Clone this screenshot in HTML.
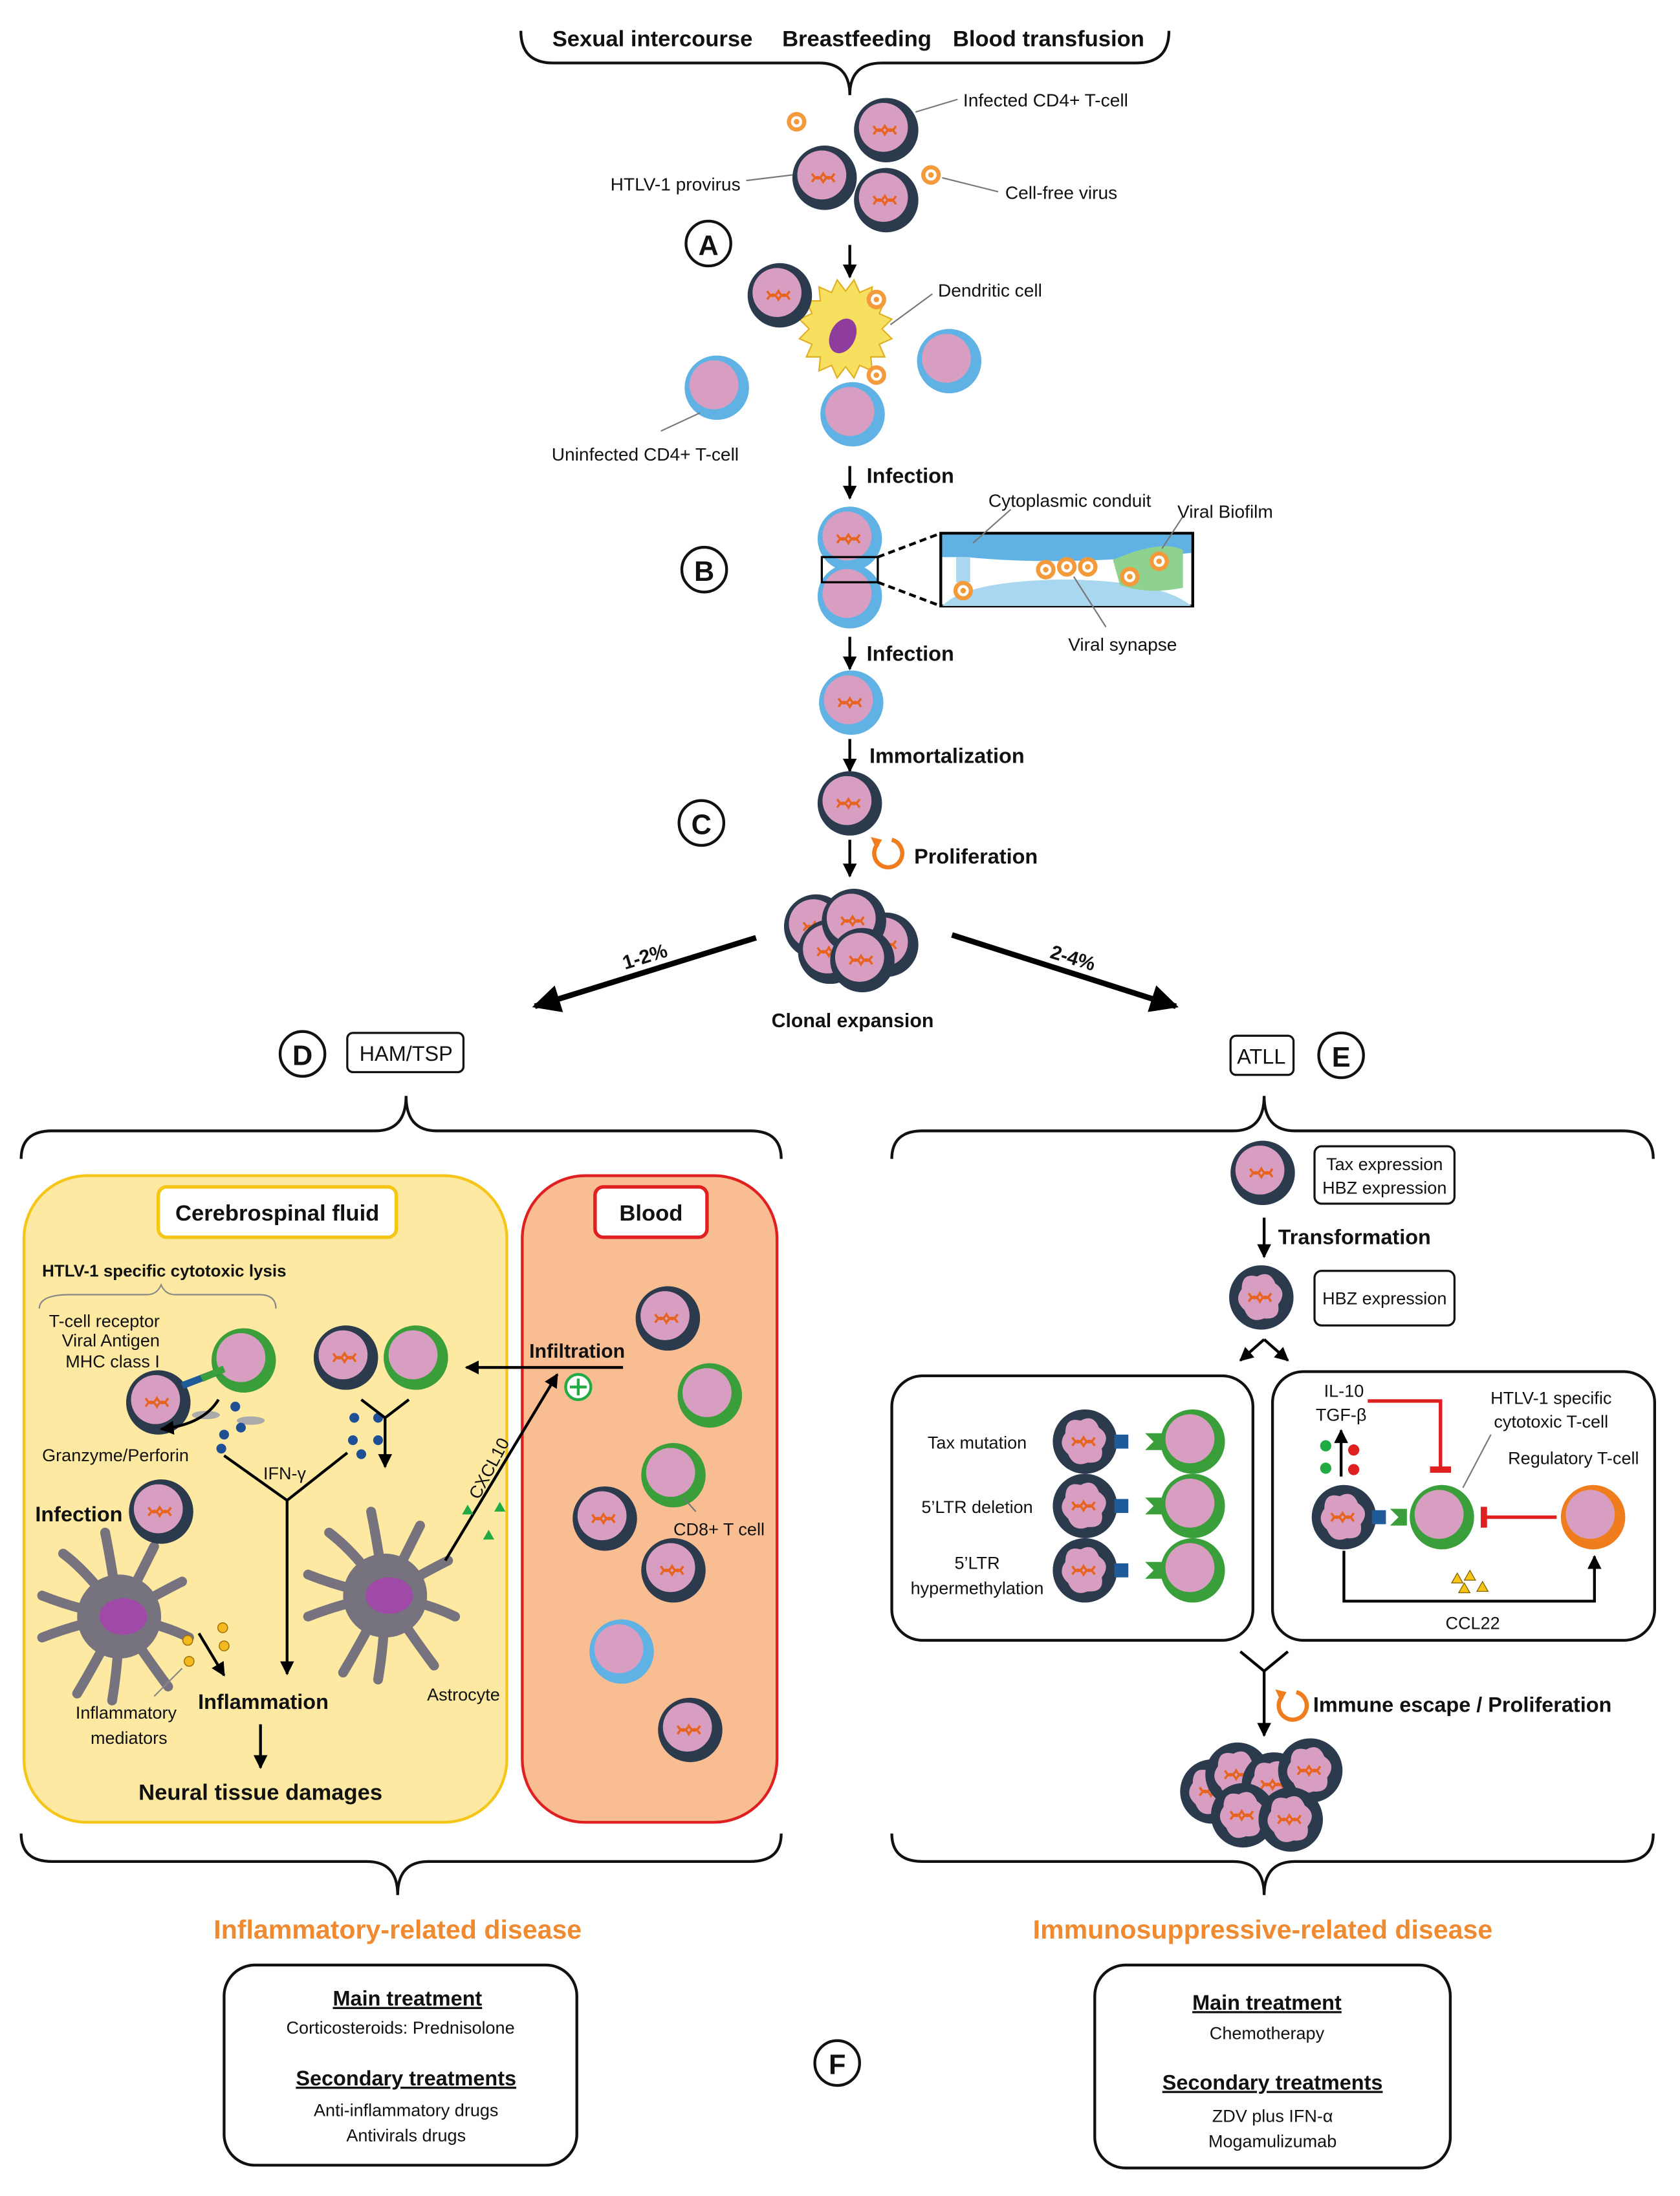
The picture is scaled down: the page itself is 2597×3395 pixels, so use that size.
<!DOCTYPE html>
<html><head><meta charset="utf-8"><style>
html,body{margin:0;padding:0;background:#fff;}
svg{display:block;}
text{font-family:"Liberation Sans",sans-serif;fill:#111;}
.b{font-weight:bold;}
</style></head><body>
<svg width="2597" height="3395" viewBox="0 0 1200 1569" xmlns="http://www.w3.org/2000/svg">
<defs>
<marker id="ar" viewBox="0 0 10 10" refX="9" refY="5" markerWidth="5" markerHeight="5" orient="auto"><path d="M0,0L10,5L0,10z" fill="#000"/></marker>
<marker id="tb" viewBox="0 0 10 10" refX="5" refY="5" markerWidth="6" markerHeight="6" orient="auto"><path d="M5,0V10" stroke="#e02020" stroke-width="3"/></marker>
<g id="dna"><path d="M-9,-3 Q-5,4 -1,-3 Q3,4 7,-3 M-9,3 Q-5,-4 -1,3 Q3,-4 7,3" fill="none" stroke="#e8641e" stroke-width="1.6"/></g>
<g id="inf"><circle r="23" fill="#2b3a4c"/><circle cx="-2" cy="-2" r="17.5" fill="#d79ec1"/><use href="#dna"/></g>
<g id="infb"><circle r="23" fill="#5fb2e3"/><circle cx="-2" cy="-2" r="17.5" fill="#d79ec1"/><use href="#dna"/></g>
<g id="un"><circle r="23" fill="#5fb2e3"/><circle cx="-2" cy="-2" r="17.5" fill="#d79ec1"/></g>
<g id="cd8"><circle r="23" fill="#3a9e3a"/><circle cx="-2" cy="-2" r="17.5" fill="#d79ec1"/></g>
<g id="treg"><circle r="23" fill="#ef7d1e"/><circle cx="-2" cy="-2" r="17.5" fill="#d79ec1"/></g>
<g id="tr"><circle r="23" fill="#2b3a4c"/><path d="M-14,-6 Q-14,-18 -3,-15 Q6,-20 10,-10 Q19,-4 12,5 Q14,16 2,15 Q-8,19 -12,9 Q-20,2 -14,-6z" fill="#d79ec1"/><use href="#dna"/></g>
<g id="vir"><circle r="7" fill="#f39a3c"/><circle r="4" fill="#fff"/><circle r="2" fill="#f39a3c"/></g>
<g id="astro"><g stroke="#76727e" stroke-width="7" stroke-linecap="round" fill="none"><path d="M0,0 Q-20,-30 -40,-45 M0,0 Q-5,-35 -10,-60 M0,0 Q15,-30 25,-50 M0,0 Q25,-15 45,-25 M0,0 Q30,5 50,15 M0,0 Q20,30 35,50 M0,0 Q0,30 -5,60 M0,0 Q-15,30 -30,55 M0,0 Q-30,5 -55,15 M0,0 Q-30,-5 -55,-15"/></g><circle r="30" fill="#76727e"/><ellipse cx="3" cy="0" rx="17" ry="13" fill="#a04aa8"/></g>
</defs>

<text x="466" y="33" class="b" font-size="16" text-anchor="middle">Sexual intercourse</text>
<text x="612" y="33" class="b" font-size="16" text-anchor="middle">Breastfeeding</text>
<text x="749" y="33" class="b" font-size="16" text-anchor="middle">Blood transfusion</text>
<path d="M372,22 Q372,45 395,45 L585,45 Q607,45 607,68 Q607,45 630,45 L812,45 Q835,45 835,22" fill="none" stroke="#111" stroke-width="2"/>
<use href="#inf" x="633" y="93"/><use href="#inf" x="589" y="127"/><use href="#inf" x="633" y="143"/>
<use href="#vir" x="569" y="87"/><use href="#vir" x="665" y="125"/>
<g stroke="#777" stroke-width="1"><line x1="654" y1="80" x2="684" y2="71"/><line x1="533" y1="129" x2="566" y2="125"/><line x1="673" y1="127" x2="713" y2="137"/></g>
<g font-size="13"><text x="688" y="76">Infected CD4+ T-cell</text><text x="436" y="136">HTLV-1 provirus</text><text x="718" y="142">Cell-free virus</text></g>
<circle cx="506" cy="174" r="16" fill="#fff" stroke="#111" stroke-width="2"/><text x="506" y="182" class="b" font-size="20" text-anchor="middle">A</text>
<line x1="607" y1="175" x2="607" y2="198" stroke="#000" stroke-width="2" marker-end="url(#ar)"/>
<path d="M604,208 l6,-8 4,9 9,-4 -1,10 10,0 -4,9 9,4 -7,7 7,7 -9,4 4,9 -10,0 1,10 -9,-4 -4,9 -6,-8 -6,8 -4,-9 -9,4 1,-10 -10,0 4,-9 -9,-4 7,-7 -7,-7 9,-4 -4,-9 10,0 -1,-10 9,4 4,-9z" fill="#f7e060" stroke="#e0b020"/>
<ellipse cx="602" cy="240" rx="9" ry="13" fill="#8e3d9c" transform="rotate(25 602 240)"/>
<use href="#inf" x="557" y="211"/><use href="#un" x="512" y="277"/><use href="#un" x="678" y="258"/><use href="#un" x="609" y="296"/>
<use href="#vir" x="626" y="214"/><use href="#vir" x="626" y="268"/>
<g stroke="#777"><line x1="636" y1="232" x2="666" y2="210"/><line x1="472" y1="308" x2="500" y2="295"/></g>
<text x="670" y="212" font-size="13">Dendritic cell</text><text x="394" y="329" font-size="13">Uninfected CD4+ T-cell</text>
<line x1="607" y1="333" x2="607" y2="356" stroke="#000" stroke-width="2" marker-end="url(#ar)"/>
<text x="619" y="345" class="b" font-size="15">Infection</text>
<use href="#infb" x="607" y="385"/><use href="#un" x="607" y="426"/>
<rect x="587" y="398" width="40" height="18" fill="none" stroke="#000" stroke-width="1.5"/>
<line x1="627" y1="398" x2="672" y2="381" stroke="#000" stroke-dasharray="5,3" stroke-width="2"/><line x1="627" y1="416" x2="672" y2="433" stroke="#000" stroke-dasharray="5,3" stroke-width="2"/>
<rect x="672" y="381" width="180" height="52" fill="#fff" stroke="#000" stroke-width="2"/>
<path d="M673,382 L851,382 L851,395 Q760,405 690,398 L673,398z" fill="#5fb2e3"/>
<path d="M673,433 Q690,415 760,414 Q830,415 851,433z" fill="#a9d7f0"/>
<rect x="683" y="398" width="10" height="18" fill="#a9d7f0"/>
<path d="M795,400 Q830,385 845,393 L845,420 Q820,425 800,418z" fill="#8fd28f"/>
<use href="#vir" x="688" y="422"/><use href="#vir" x="747" y="407"/><use href="#vir" x="762" y="405"/><use href="#vir" x="777" y="405"/><use href="#vir" x="807" y="412"/><use href="#vir" x="828" y="401"/>
<g stroke="#777"><line x1="722" y1="364" x2="695" y2="388"/><line x1="845" y1="369" x2="830" y2="392"/><line x1="790" y1="448" x2="767" y2="412"/></g>
<g font-size="13"><text x="706" y="362">Cytoplasmic conduit</text><text x="841" y="370">Viral Biofilm</text><text x="763" y="465">Viral synapse</text></g>
<circle cx="503" cy="407" r="16" fill="#fff" stroke="#111" stroke-width="2"/><text x="503" y="415" class="b" font-size="20" text-anchor="middle">B</text>
<line x1="607" y1="455" x2="607" y2="478" stroke="#000" stroke-width="2" marker-end="url(#ar)"/>
<text x="619" y="472" class="b" font-size="15">Infection</text>
<use href="#infb" x="608" y="502"/>
<line x1="607" y1="528" x2="607" y2="551" stroke="#000" stroke-width="2" marker-end="url(#ar)"/>
<text x="621" y="545" class="b" font-size="15">Immortalization</text>
<circle cx="501" cy="588" r="16" fill="#fff" stroke="#111" stroke-width="2"/><text x="501" y="596" class="b" font-size="20" text-anchor="middle">C</text>
<use href="#inf" x="607" y="574"/>
<line x1="607" y1="600" x2="607" y2="626" stroke="#000" stroke-width="2" marker-end="url(#ar)"/>
<path d="M637,600 A10,10 0 1 1 627,603" fill="none" stroke="#ef7d1e" stroke-width="3"/><path d="M622,598 l8,2 -4,7z" fill="#ef7d1e"/>
<text x="653" y="617" class="b" font-size="15">Proliferation</text>
<use href="#inf" x="583" y="662"/><use href="#inf" x="633" y="675"/><use href="#inf" x="593" y="680"/><use href="#inf" x="610" y="658"/><use href="#inf" x="616" y="686"/>
<text x="609" y="734" class="b" font-size="14" text-anchor="middle">Clonal expansion</text>
<line x1="540" y1="670" x2="382" y2="719" stroke="#000" stroke-width="4" marker-end="url(#ar)"/>
<line x1="680" y1="668" x2="840" y2="719" stroke="#000" stroke-width="4" marker-end="url(#ar)"/>
<text x="462" y="688" class="b" font-size="14" text-anchor="middle" transform="rotate(-17 462 688)">1-2%</text>
<text x="765" y="689" class="b" font-size="14" text-anchor="middle" transform="rotate(17 765 689)">2-4%</text>
<circle cx="216" cy="753" r="16" fill="#fff" stroke="#111" stroke-width="2"/><text x="216" y="761" class="b" font-size="20" text-anchor="middle">D</text>
<rect x="248" y="738" width="83" height="28" rx="4" fill="#fff" stroke="#111" stroke-width="1.5"/><text x="290" y="758" font-size="15" text-anchor="middle">HAM/TSP</text>
<rect x="879" y="740" width="45" height="28" rx="4" fill="#fff" stroke="#111" stroke-width="1.5"/><text x="901" y="760" font-size="15" text-anchor="middle">ATLL</text>
<circle cx="958" cy="754" r="16" fill="#fff" stroke="#111" stroke-width="2"/><text x="958" y="762" class="b" font-size="20" text-anchor="middle">E</text>
<path d="M15,828 Q15,808 37,808 L268,808 Q290,808 290,783 Q290,808 312,808 L536,808 Q558,808 558,828" fill="none" stroke="#111" stroke-width="2"/>
<path d="M637,828 Q637,808 659,808 L881,808 Q903,808 903,783 Q903,808 925,808 L1159,808 Q1181,808 1181,828" fill="none" stroke="#111" stroke-width="2"/>
<rect x="373" y="840" width="182" height="462" rx="45" fill="#f9bd92" stroke="#e02020" stroke-width="2"/>
<rect x="17" y="840" width="345" height="462" rx="45" fill="#fde9a2" stroke="#f5c518" stroke-width="2"/>
<rect x="113" y="848" width="170" height="36" rx="6" fill="#fff" stroke="#f5c518" stroke-width="2.5"/><text x="198" y="872" class="b" font-size="16" text-anchor="middle">Cerebrospinal fluid</text>
<rect x="425" y="848" width="80" height="36" rx="6" fill="#fff" stroke="#e02020" stroke-width="2.5"/><text x="465" y="872" class="b" font-size="16" text-anchor="middle">Blood</text>
<text x="30" y="912" class="b" font-size="12">HTLV-1 specific cytotoxic lysis</text>
<path d="M28,935 Q28,925 50,925 L105,925 Q112,925 115,918 Q118,925 125,925 L185,925 Q197,925 197,935" fill="none" stroke="#888"/>
<g font-size="12.5" text-anchor="end"><text x="114" y="948">T-cell receptor</text><text x="114" y="962">Viral Antigen</text><text x="114" y="977">MHC class I</text></g>
<use href="#cd8" x="174" y="972"/><use href="#inf" x="113" y="1002"/>
<line x1="130" y1="990" x2="156" y2="980" stroke="#1f5a9a" stroke-width="5"/>
<line x1="144" y1="985" x2="160" y2="978" stroke="#3a9e3a" stroke-width="5"/>
<ellipse cx="147" cy="1011" rx="10" ry="3" fill="#aaa"/><ellipse cx="179" cy="1015" rx="10" ry="3" fill="#aaa"/>
<g fill="#1f4f94"><circle cx="168" cy="1005" r="3.5"/><circle cx="172" cy="1020" r="3.5"/><circle cx="160" cy="1025" r="3.5"/><circle cx="158" cy="1035" r="3.5"/><circle cx="253" cy="1013" r="3.5"/><circle cx="270" cy="1013" r="3.5"/><circle cx="252" cy="1029" r="3.5"/><circle cx="270" cy="1029" r="3.5"/><circle cx="258" cy="1039" r="3.5"/></g>
<path d="M156,1000 Q145,1018 115,1021" fill="none" stroke="#000" stroke-width="2" marker-end="url(#ar)"/>
<text x="30" y="1044" font-size="12.5">Granzyme/Perforin</text>
<use href="#inf" x="247" y="970"/><use href="#cd8" x="297" y="970"/>
<path d="M258,1000 L275,1013 L292,1000" fill="none" stroke="#000" stroke-width="2"/>
<line x1="275" y1="1013" x2="275" y2="1048" stroke="#000" stroke-width="2" marker-end="url(#ar)"/>
<path d="M160,1040 L205,1072 L248,1038" fill="none" stroke="#000" stroke-width="2"/>
<line x1="205" y1="1072" x2="205" y2="1196" stroke="#000" stroke-width="2" marker-end="url(#ar)"/>
<text x="188" y="1057" font-size="12.5">IFN-γ</text>
<text x="25" y="1087" class="b" font-size="15">Infection</text>
<use href="#astro" x="85" y="1155"/><use href="#astro" x="275" y="1140"/>
<use href="#inf" x="115" y="1080"/>
<g fill="#f5b820" stroke="#a07000" stroke-width=".7"><circle cx="134" cy="1172" r="3.5"/><circle cx="159" cy="1163" r="3.5"/><circle cx="160" cy="1176" r="3.5"/><circle cx="135" cy="1187" r="3.5"/></g>
<line x1="142" y1="1167" x2="160" y2="1197" stroke="#000" stroke-width="2" marker-end="url(#ar)"/>
<line x1="110" y1="1212" x2="130" y2="1192" stroke="#888"/>
<g font-size="12.5" text-anchor="middle"><text x="90" y="1228">Inflammatory</text><text x="92" y="1246">mediators</text><text x="331" y="1215">Astrocyte</text></g>
<text x="188" y="1221" class="b" font-size="15" text-anchor="middle">Inflammation</text>
<line x1="186" y1="1232" x2="186" y2="1263" stroke="#000" stroke-width="2" marker-end="url(#ar)"/>
<text x="186" y="1286" class="b" font-size="16" text-anchor="middle">Neural tissue damages</text>
<line x1="318" y1="1115" x2="398" y2="982" stroke="#000" stroke-width="2" marker-end="url(#ar)"/>
<text x="0" y="0" font-size="12.5" transform="translate(342,1072) rotate(-62)">CXCL10</text>
<g fill="#22aa44"><path d="M330,1082 l4,-7 4,7z"/><path d="M353,1080 l4,-7 4,7z"/><path d="M345,1100 l4,-7 4,7z"/></g>
<line x1="445" y1="977" x2="333" y2="977" stroke="#000" stroke-width="2" marker-end="url(#ar)"/>
<text x="378" y="970" class="b" font-size="14">Infiltration</text>
<circle cx="413" cy="991" r="9" fill="#fff" stroke="#22aa44" stroke-width="2"/><path d="M407,991h12M413,985v12" stroke="#22aa44" stroke-width="2"/>
<use href="#inf" x="477" y="942"/><use href="#cd8" x="507" y="997"/><use href="#cd8" x="481" y="1054"/><use href="#inf" x="432" y="1085"/><use href="#inf" x="481" y="1122"/><use href="#un" x="444" y="1180"/><use href="#inf" x="493" y="1236"/>
<line x1="488" y1="1070" x2="497" y2="1080" stroke="#777"/><text x="481" y="1097" font-size="12.5">CD8+ T cell</text>
<use href="#inf" x="902" y="838"/>
<rect x="939" y="819" width="100" height="41" rx="5" fill="#fff" stroke="#111" stroke-width="1.5"/>
<text x="989" y="836" font-size="12.5" text-anchor="middle">Tax expression</text><text x="989" y="853" font-size="12.5" text-anchor="middle">HBZ expression</text>
<line x1="903" y1="870" x2="903" y2="898" stroke="#000" stroke-width="2" marker-end="url(#ar)"/>
<text x="913" y="889" class="b" font-size="15">Transformation</text>
<use href="#tr" x="901" y="927"/>
<rect x="939" y="908" width="100" height="39" rx="5" fill="#fff" stroke="#111" stroke-width="1.5"/><text x="989" y="932" font-size="12.5" text-anchor="middle">HBZ expression</text>
<line x1="903" y1="957" x2="886" y2="972" stroke="#000" stroke-width="2" marker-end="url(#ar)"/>
<line x1="903" y1="957" x2="920" y2="972" stroke="#000" stroke-width="2" marker-end="url(#ar)"/>
<rect x="637" y="983" width="258" height="189" rx="22" fill="#fff" stroke="#111" stroke-width="2"/>
<g font-size="12.5" text-anchor="middle"><text x="698" y="1035">Tax mutation</text><text x="698" y="1081">5’LTR deletion</text><text x="698" y="1121">5’LTR</text><text x="698" y="1139">hypermethylation</text></g>
<use href="#tr" x="775" y="1030"/><use href="#tr" x="775" y="1076"/><use href="#tr" x="775" y="1122"/>
<use href="#cd8" x="852" y="1030"/><use href="#cd8" x="852" y="1076"/><use href="#cd8" x="852" y="1122"/>
<g fill="#1f5a9a"><rect x="796" y="1025" width="10" height="10"/><rect x="796" y="1071" width="10" height="10"/><rect x="796" y="1117" width="10" height="10"/></g>
<g fill="#3a9e3a"><path d="M818,1024 l12,0 0,12 -12,0 6,-6z"/><path d="M818,1070 l12,0 0,12 -12,0 6,-6z"/><path d="M818,1116 l12,0 0,12 -12,0 6,-6z"/></g>
<rect x="909" y="980" width="273" height="192" rx="22" fill="#fff" stroke="#111" stroke-width="2"/>
<text x="960" y="998" font-size="12.5" text-anchor="middle">IL-10</text><text x="958" y="1015" font-size="12.5" text-anchor="middle">TGF-β</text>
<line x1="958" y1="1055" x2="958" y2="1022" stroke="#000" stroke-width="2" marker-end="url(#ar)"/>
<g><circle cx="947" cy="1033" r="4" fill="#22aa44"/><circle cx="947" cy="1049" r="4" fill="#22aa44"/><circle cx="967" cy="1036" r="4" fill="#dd2020"/><circle cx="967" cy="1050" r="4" fill="#dd2020"/></g>
<path d="M977,1001 L1029,1001 L1029,1050" fill="none" stroke="#e02020" stroke-width="2.5" marker-end="url(#tb)"/>
<text x="1108" y="1003" font-size="12.5" text-anchor="middle">HTLV-1 specific</text><text x="1108" y="1020" font-size="12.5" text-anchor="middle">cytotoxic T-cell</text>
<text x="1124" y="1046" font-size="12.5" text-anchor="middle">Regulatory T-cell</text>
<line x1="1065" y1="1025" x2="1045" y2="1063" stroke="#777"/>
<use href="#tr" x="960" y="1084"/><use href="#cd8" x="1030" y="1084"/><use href="#treg" x="1138" y="1084"/>
<rect x="980" y="1079" width="10" height="10" fill="#1f5a9a"/><path d="M993,1078 l12,0 0,12 -12,0 6,-6z" fill="#3a9e3a"/>
<line x1="1112" y1="1084" x2="1060" y2="1084" stroke="#e02020" stroke-width="2.5" marker-end="url(#tb)"/>
<path d="M960,1108 L960,1144 L1139,1144 L1139,1112" fill="none" stroke="#000" stroke-width="2" marker-end="url(#ar)"/>
<g fill="#f5c518" stroke="#806000" stroke-width=".6"><path d="M1037,1131 l4,-7 4,7z"/><path d="M1046,1129 l4,-7 4,7z"/><path d="M1055,1137 l4,-7 4,7z"/><path d="M1042,1138 l4,-7 4,7z"/></g>
<text x="1052" y="1164" font-size="12.5" text-anchor="middle">CCL22</text>
<path d="M886,1180 L903,1194 L920,1180" fill="none" stroke="#000" stroke-width="2"/>
<line x1="903" y1="1194" x2="903" y2="1240" stroke="#000" stroke-width="2" marker-end="url(#ar)"/>
<path d="M926,1209 A10,10 0 1 1 916,1212" fill="none" stroke="#ef7d1e" stroke-width="3"/><path d="M911,1207 l8,2 -4,7z" fill="#ef7d1e"/>
<text x="938" y="1223" class="b" font-size="15">Immune escape / Proliferation</text>
<use href="#tr" x="866" y="1280"/><use href="#tr" x="884" y="1268"/><use href="#tr" x="910" y="1275"/><use href="#tr" x="936" y="1265"/><use href="#tr" x="888" y="1297"/><use href="#tr" x="922" y="1300"/>
<path d="M15,1310 Q15,1330 37,1330 L262,1330 Q284,1330 284,1354 Q284,1330 306,1330 L536,1330 Q558,1330 558,1310" fill="none" stroke="#111" stroke-width="2"/>
<path d="M637,1310 Q637,1330 659,1330 L881,1330 Q903,1330 903,1354 Q903,1330 925,1330 L1159,1330 Q1181,1330 1181,1310" fill="none" stroke="#111" stroke-width="2"/>
<text x="284" y="1385" class="b" font-size="19" text-anchor="middle" style="fill:#f08a30">Inflammatory-related disease</text>
<text x="902" y="1385" class="b" font-size="19" text-anchor="middle" style="fill:#f08a30">Immunosuppressive-related disease</text>
<rect x="160" y="1404" width="252" height="143" rx="22" fill="#fff" stroke="#111" stroke-width="2"/>
<text x="291" y="1433" class="b" font-size="15" text-anchor="middle" text-decoration="underline">Main treatment</text>
<text x="286" y="1453" font-size="12.5" text-anchor="middle">Corticosteroids: Prednisolone</text>
<text x="290" y="1490" class="b" font-size="15" text-anchor="middle" text-decoration="underline">Secondary treatments</text>
<text x="290" y="1512" font-size="12.5" text-anchor="middle">Anti-inflammatory drugs</text><text x="290" y="1530" font-size="12.5" text-anchor="middle">Antivirals drugs</text>
<circle cx="598" cy="1474" r="16" fill="#fff" stroke="#111" stroke-width="2"/><text x="598" y="1482" class="b" font-size="20" text-anchor="middle">F</text>
<rect x="782" y="1404" width="254" height="145" rx="22" fill="#fff" stroke="#111" stroke-width="2"/>
<text x="905" y="1436" class="b" font-size="15" text-anchor="middle" text-decoration="underline">Main treatment</text>
<text x="905" y="1457" font-size="12.5" text-anchor="middle">Chemotherapy</text>
<text x="909" y="1493" class="b" font-size="15" text-anchor="middle" text-decoration="underline">Secondary treatments</text>
<text x="909" y="1516" font-size="12.5" text-anchor="middle">ZDV plus IFN-α</text><text x="909" y="1534" font-size="12.5" text-anchor="middle">Mogamulizumab</text>
</svg>
</body></html>
